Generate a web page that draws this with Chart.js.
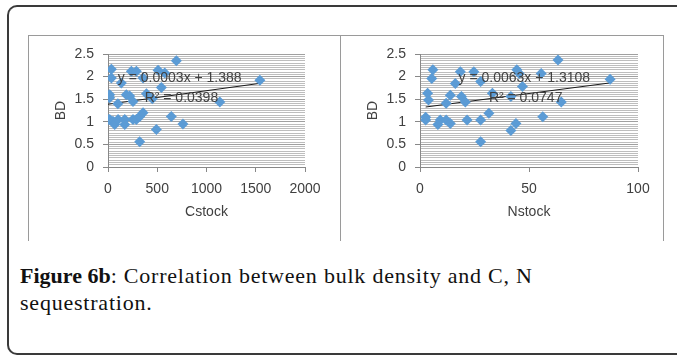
<!DOCTYPE html>
<html>
<head>
<meta charset="utf-8">
<script src="https://cdn.jsdelivr.net/npm/chart.js@4.4.0/dist/chart.umd.min.js"></script>
<style>
  body { margin: 0; background: #fff; width: 677px; height: 355px; overflow: hidden; position: relative; }
  #frame { position: absolute; left: 7px; top: 5px; width: 700px; height: 346px; border: 2px solid #3a3a3a; border-right: none; border-radius: 10px 0 0 10px; }
  .box { position: absolute; top: 35px; height: 205px; border-top: 1px solid #9a9a9a; border-left: 1px solid #9a9a9a; }
  #boxC { left: 28px; width: 312px; }
  #boxN { left: 340px; width: 322px; border-right: 1px solid #9a9a9a; }
  .box canvas { position: absolute; left: 0; top: 0; }
  #caption { position: absolute; left: 20px; top: 262px; font-family: "Liberation Serif", serif; font-size: 22px; letter-spacing: 0.78px; line-height: 27px; color: #111; }
  #caption b { font-weight: bold; letter-spacing: 0; }
</style>
</head>
<body>
<div id="frame"></div>
<div class="box" id="boxC"><canvas id="chartC" width="312" height="205"></canvas></div>
<div class="box" id="boxN"><canvas id="chartN" width="322" height="205"></canvas></div>
<div id="caption"><b>Figure 6b</b>: Correlation between bulk density and C, N<br>sequestration.</div>
<script>
// Cstock vs BD
var cstock = [0, 17, 17, 17, 34, 34, 50, 68, 102, 100, 135, 170, 170, 186, 220, 237, 254, 254, 288, 288,
              322, 322, 356, 356, 390, 450, 491, 508, 542, 576, 643, 694, 761, 1135, 1542];
var bdC = [1.05, 1.05, 1.60, 1.53, 2.16, 1.97, 1.01, 0.94, 1.05, 1.40, 1.86, 1.05, 0.94, 1.60, 1.57, 2.12, 1.45, 1.05, 2.12, 1.05,
           0.56, 1.12, 1.20, 1.97, 1.62, 1.51, 0.83, 2.14, 1.76, 2.08, 1.12, 2.35, 0.95, 1.44, 1.92];

// Nstock vs BD
var nstock = [2.6, 2.6, 3.5, 3.9, 5.9, 5.4, 8.2, 9.3, 12, 12, 13.9, 13.9, 16.2, 18.5, 19, 20.8, 21.6, 24.7, 27.8, 27.8,
              27.8, 31.6, 33.2, 41.7, 41.7, 44, 44.4, 45.5, 47, 55.6, 56.3, 63.3, 64.8, 87.2];
var bdN = [1.04, 1.10, 1.63, 1.48, 2.15, 1.96, 0.94, 1.04, 1.04, 1.41, 1.59, 0.96, 1.85, 2.11, 1.56, 1.44, 1.04, 2.11, 1.89, 1.04,
           0.56, 1.19, 1.63, 1.56, 0.81, 0.96, 2.15, 2.07, 1.78, 2.07, 1.11, 2.37, 1.44, 1.94];

var xTicksC = [0, 500, 1000, 1500, 2000];
var xTicksN = [0, 50, 100];
var yTickLabels = [0, 0.5, 1, 1.5, 2, 2.5];

var trendC = { slope: 0.0003, intercept: 1.388, eq: 'y = 0.0003x + 1.388', r2: 'R\u00b2 = 0.0398' };
var trendN = { slope: 0.0063, intercept: 1.3108, eq: 'y = 0.0063x + 1.3108', r2: 'R\u00b2 = 0.0747' };

var FONT = '"Liberation Sans", Arial, sans-serif';
var TXT = '#404040';

var eqLabels = {
    id: 'eqLabels',
    afterDatasetsDraw: function(chart, args, opts) {
        var ctx = chart.ctx, xs = chart.scales.x, ys = chart.scales.y;
        ctx.save();
        ctx.font = '14px ' + FONT;
        ctx.fillStyle = TXT;
        ctx.textBaseline = 'middle';
        opts.items.forEach(function(it) {
            ctx.fillText(it.text, xs.getPixelForValue(it.x), ys.getPixelForValue(it.y));
        });
        ctx.restore();
    }
};

function isMajor(v) {
    return Math.abs(v * 2 - Math.round(v * 2)) < 1e-6;
}

function points(xs, ys) {
    var out = [];
    for (var i = 0; i < xs.length; i++) out.push({ x: xs[i], y: ys[i] });
    return out;
}

function trendPoints(xs, t) {
    var lo = Math.min.apply(null, xs), hi = Math.max.apply(null, xs);
    return [{ x: lo, y: t.slope * lo + t.intercept }, { x: hi, y: t.slope * hi + t.intercept }];
}

function makeChart(id, xs, ys, xTicks, t, xTitle, padRight, labelPos) {
    var ctx = document.getElementById(id).getContext('2d');
    var xMax = xTicks[xTicks.length - 1];
    return new Chart(ctx, {
        type: 'scatter',
        data: {
            datasets: [{
                data: points(xs, ys),
                pointStyle: 'rectRot',
                pointRadius: 5.5,
                pointHoverRadius: 5.5,
                backgroundColor: '#5b9bd5',
                borderColor: '#5b9bd5',
                borderWidth: 0
            }, {
                type: 'line',
                data: trendPoints(xs, t),
                borderColor: '#1a1a1a',
                borderWidth: 1,
                pointRadius: 0,
                fill: false
            }]
        },
        options: {
            responsive: false,
            animation: false,
            events: [],
            layout: { padding: { left: 0, right: padRight, top: 18, bottom: 0 } },
            plugins: {
                legend: { display: false },
                tooltip: { enabled: false },
                eqLabels: { items: [
                    { text: t.eq, x: labelPos[0], y: labelPos[1] },
                    { text: t.r2, x: labelPos[2], y: labelPos[3] }
                ] }
            },
            scales: {
                x: {
                    type: 'linear',
                    min: 0,
                    max: xMax,
                    afterFit: function(s) { s.height = 74; },
                    afterBuildTicks: function(s) { s.ticks = xTicks.map(function(v) { return { value: v }; }); },
                    ticks: {
                        font: { size: 14, family: FONT },
                        color: TXT,
                        padding: 9,
                        maxRotation: 0,
                        callback: function(v) { return String(v); }
                    },
                    grid: { drawOnChartArea: false, tickLength: 5, tickColor: '#888', color: '#888' },
                    border: { color: '#888', width: 1 },
                    title: { display: true, text: xTitle, font: { size: 14, family: FONT }, color: TXT, padding: { top: 0, bottom: 20 } }
                },
                y: {
                    min: 0,
                    max: 2.5,
                    afterFit: function(s) { s.width = 79; },
                    ticks: {
                        stepSize: 0.05,
                        maxTicksLimit: 1000,
                        autoSkip: false,
                        font: { size: 14, family: FONT },
                        color: TXT,
                        padding: 9,
                        callback: function(v) {
                            if (!isMajor(v)) return '';
                            var r = Math.round(v * 2) / 2;
                            return yTickLabels.indexOf(r) >= 0 ? String(r) : '';
                        }
                    },
                    grid: {
                        tickLength: 5,
                        color: function(c) { return isMajor(c.tick.value) ? '#a0a0a0' : '#bdbdbd'; },
                        tickColor: function(c) { return isMajor(c.tick.value) ? '#888' : 'rgba(0,0,0,0)'; }
                    },
                    border: { color: '#888', width: 1 },
                    title: { display: true, text: 'BD', font: { size: 14, family: FONT }, color: TXT, padding: { top: 24, bottom: 0 } }
                }
            }
        },
        plugins: [eqLabels]
    });
}

makeChart('chartC', cstock, bdC, xTicksC, trendC, 'Cstock', 36, [100, 1.97, 372, 1.52]);
makeChart('chartN', nstock, bdN, xTicksN, trendN, 'Nstock', 25, [17.7, 1.96, 31.6, 1.52]);
</script>
</body>
</html>
